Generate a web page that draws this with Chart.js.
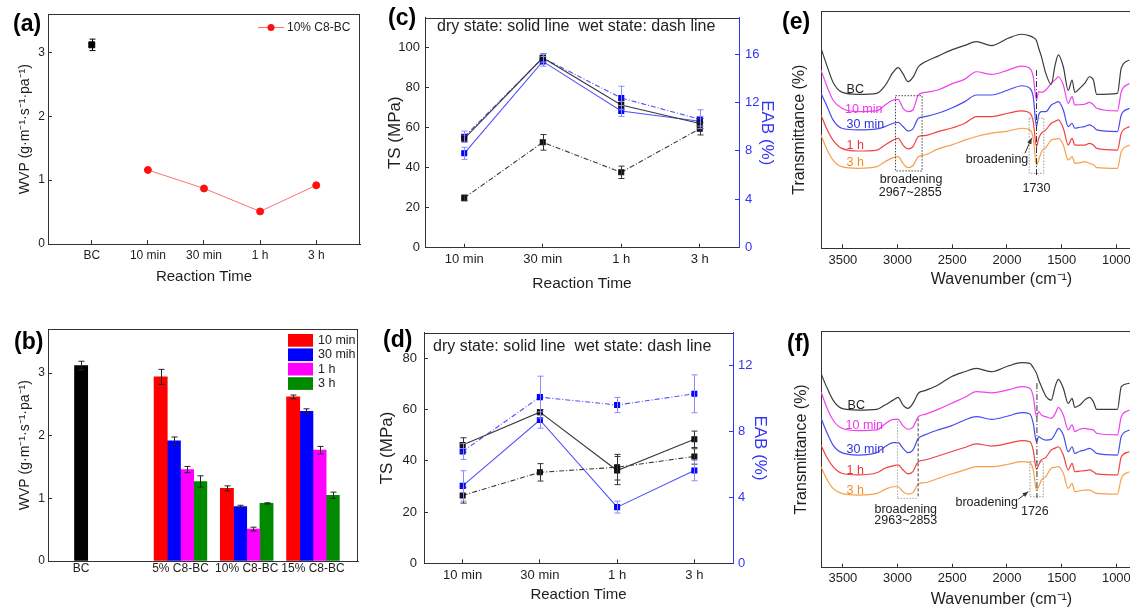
<!DOCTYPE html>
<html>
<head>
<meta charset="utf-8">
<title>C8-BC films</title>
<script src="https://cdn.jsdelivr.net/npm/chart.js@4.4.1/dist/chart.umd.min.js"></script>
<style>
  html, body { margin: 0; padding: 0; background: #fff; }
  body { width: 1130px; height: 608px; overflow: hidden; position: relative; }
  canvas { position: absolute; }
</style>
</head>
<body>
<canvas id="chartA" width="375" height="300" style="left:0;top:0"></canvas>
<canvas id="chartB" width="375" height="308" style="left:0;top:300px"></canvas>
<canvas id="chartC" width="405" height="300" style="left:375px;top:0"></canvas>
<canvas id="chartD" width="405" height="308" style="left:375px;top:300px"></canvas>
<canvas id="chartE" width="420" height="300" style="left:780px;top:0"></canvas>
<canvas id="chartF" width="420" height="308" style="left:780px;top:300px"></canvas>
<script>
// ---- data ----
// (a) WVP, BC vs 10% C8-BC at each reaction time
const aLabels = ['BC', '10 min', '30 min', '1 h', '3 h'];
const aPositions = [1, 2, 3, 4, 5];
const wvpBC = 3.12;
const wvpBCErr = 0.09;
const wvp10 = [1.16, 0.87, 0.51, 0.92];

// (b) WVP by C8 content and reaction time
const groupLabels = ['BC', '5% C8-BC', '10% C8-BC', '15% C8-BC'];
const groupPositions = [0, 1.5, 2.5, 3.5];
const barSeries = ['10 min', '30 mih', '1 h', '3 h'];
const barBC = 3.12, barBCErr = 0.07;
const bar10min = [2.94, 1.16, 2.62];
const bar10minErr = [0.12, 0.04, 0.03];
const bar30min = [1.92, 0.87, 2.39];
const bar30minErr = [0.06, 0.02, 0.04];
const bar1h = [1.46, 0.51, 1.77];
const bar1hErr = [0.05, 0.03, 0.06];
const bar3h = [1.27, 0.92, 1.05];
const bar3hErr = [0.09, 0.01, 0.05];

// (c) / (d) tensile strength and elongation
const timeLabels = ['10 min', '30 min', '1 h', '3 h'];
const tsDryC = [54.6, 95.0, 71.4, 62.1];
const tsDryCErr = [1.5, 2, 2, 2.5];
const tsWetC = [24.9, 52.7, 37.7, 59.5];
const tsWetCErr = [1.5, 3.9, 3.1, 3.1];
const eabDryC = [7.8, 15.4, 11.3, 10.45];
const eabDryCErr = [0.5, 0.4, 0.45, 0.4];
const eabWetC = [9.17, 15.68, 12.37, 10.62];
const eabWetCErr = [0.47, 0.35, 0.97, 0.78];

const tsDryD = [46.2, 59.0, 36.2, 48.4];
const tsDryDErr = [2.8, 1, 5.5, 3.2];
const tsWetD = [26.5, 35.5, 37.5, 41.7];
const tsWetDErr = [3, 3.4, 5, 3];
const eabDryD = [4.7, 8.7, 3.41, 5.63];
const eabDryDErr = [0.92, 0.5, 0.36, 0.62];
const eabWetD = [6.79, 10.09, 9.61, 10.29];
const eabWetDErr = [0.48, 1.27, 0.46, 1.15];

// (e) / (f) FTIR spectra
const specNames = ['BC', '10 min', '30 min', '1 h', '3 h'];
const wn = [3700,3650,3590,3510,3360,3190,3115,3040,2995,2950,
            2905,2860,2810,2750,2630,2510,2385,2280,2140,1990,
            1865,1790,1760,1730,1710,1685,1645,1595,1560,1530,
            1485,1440,1405,1380,1335,1290,1245,1210,1180,990,
            955,880];
const wnTicks = [3500, 3000, 2500, 2000, 1500, 1000, 500];

const eBC = [84.3,77.5,70.0,65.8,64.9,65.3,68.5,74.2,76.1,73.5, 70.2,72.0,76.5,78.5,81.0,83.5,85.5,87.1,85.4,88.5, 90.2,89.5,88.8,87.5,84.3,80.8,73.7,69.1,77.2,81.5, 76.5,66.5,70.9,65.7,67.4,69.5,72.3,70.9,64.9,65.3, 76.0,79.4];
const e10min = [75.1,68.8,62.5,59.0,57.6,57.9,60.4,62.5,62.8,59.0, 57.6,58.3,64.6,65.7,66.7,69.2,71.3,74.4,73.3,75.1, 76.8,75.8,72.3,62.5,66.0,65.7,66.7,69.5,71.0,72.3, 68.8,61.1,63.9,60.4,60.5,60.7,61.5,60.5,59.0,57.9, 66.0,69.5];
const e30min = [65.3,60.4,54.1,50.6,49.9,50.3,51.3,52.7,53.1,51.3, 49.4,50.3,54.8,55.5,56.9,59.0,61.8,64.6,64.6,66.7, 68.5,67.4,63.9,51.3,56.2,57.6,57.6,60.4,61.2,61.8, 58.3,51.3,52.7,50.6,51.0,51.3,52.0,51.2,49.9,49.2, 56.2,59.0];
const e1h = [56.2,50.6,45.6,42.1,41.0,41.4,43.5,45.6,46.3,43.5, 41.9,42.8,47.1,47.5,49.2,50.6,52.7,55.5,55.5,56.9, 57.9,56.9,53.4,42.8,46.3,48.5,49.9,52.7,53.5,54.1, 50.6,43.5,46.3,43.5,43.5,43.5,44.2,43.5,42.1,41.4, 48.5,51.3];
const e3h = [47.8,42.1,37.2,34.4,33.7,34.4,36.5,38.2,38.6,35.8, 34.0,34.8,38.6,39.3,41.9,43.5,45.6,47.1,48.5,49.4, 50.6,49.9,46.3,35.1,37.2,40.7,42.4,45.6,46.0,46.3, 43.5,37.2,38.6,35.8,36.0,36.5,35.8,35.2,34.0,33.7, 40.7,43.5];

const fBC = [82.1,76.5,70.8,67.3,66.6,66.9,68.7,70.8,72.0,68.7, 67.3,69.4,73.7,74.8,77.2,80.7,82.8,84.2,82.8,85.2, 86.6,86.3,84.5,82.1,79.3,76.5,72.5,70.8,76.5,79.6, 75.8,69.4,71.5,67.7,68.7,70.8,72.0,70.1,66.9,66.9, 76.5,77.9];
const f10min = [74.4,68.0,62.4,58.9,57.9,58.2,60.7,62.7,62.7,59.9, 58.5,59.3,63.8,64.8,66.9,69.4,72.0,74.4,73.9,75.1, 76.5,75.8,72.3,63.8,65.9,64.5,63.8,63.1,65.0,67.7, 64.5,58.2,60.3,57.5,58.5,58.9,58.5,58.2,56.8,56.1, 63.8,66.6];
const f30min = [63.1,57.5,51.8,48.6,47.6,48.6,51.1,52.8,52.8,50.4, 48.6,49.7,54.6,56.1,58.2,59.9,62.4,63.8,62.7,64.1, 65.5,64.9,61.0,53.2,55.4,54.6,53.9,54.2,56.5,58.9, 56.1,49.0,51.1,48.3,49.2,49.7,50.4,49.5,48.3,47.6, 55.4,58.2];
const f1h = [51.8,46.9,42.7,39.9,39.2,40.1,42.0,43.0,43.4,41.3, 39.6,40.6,44.8,45.5,47.2,49.0,50.8,52.3,51.4,52.5, 53.7,53.2,49.7,41.5,43.4,45.5,46.6,49.7,50.5,51.1, 47.6,41.3,44.1,40.6,40.8,41.0,41.3,40.5,39.6,39.2, 46.9,49.0];
const f3h = [42.7,37.7,33.5,31.4,30.7,31.4,33.1,34.2,34.2,32.1, 31.1,31.7,35.4,35.9,37.7,39.6,41.3,42.7,42.7,43.7, 44.8,44.4,41.3,32.8,34.2,37.0,38.5,42.0,42.4,42.7, 39.9,33.5,35.6,32.1,32.5,32.8,32.8,32.0,31.4,31.1, 37.7,40.6];

// ---- look ----
const FONT = "'Liberation Sans', Arial, Helvetica, sans-serif";
Chart.defaults.font.family = FONT;
Chart.defaults.color = '#1e1e1e';
Chart.defaults.animation = false;
Chart.defaults.events = [];
Chart.defaults.plugins.legend.display = false;
Chart.defaults.plugins.tooltip.enabled = false;

const BLUE_AXIS = '#3434f4';
const specColors = ['#3c3c3c', '#f040f0', '#4a4af0', '#f04242', '#f5a04a'];
const specText = ['#222', '#e838e8', '#3030e0', '#e83636', '#f08c28'];
const wvpTitle = 'WVP (g\u00B7m\u207B\u00B9\u00B7s\u207B\u00B9\u00B7pa\u207B\u00B9)';

function inTicks(color) {
  return { drawOnChartArea: false, drawTicks: true, tickLength: -4, color: color || '#333' };
}
function edge(color) {
  return { display: true, color: color || '#333', width: 1 };
}

function txt(ctx, s, x, y, size, color, align, weight) {
  ctx.save();
  ctx.font = (weight || 'normal') + ' ' + size + 'px ' + FONT;
  ctx.fillStyle = color || '#222';
  ctx.textAlign = align || 'left';
  ctx.textBaseline = 'middle';
  ctx.fillText(s, x, y);
  ctx.restore();
}
function panelLabel(ctx, s, x, baseline) {
  ctx.save();
  ctx.font = 'bold 23px ' + FONT;
  ctx.fillStyle = '#000';
  ctx.textBaseline = 'alphabetic';
  ctx.fillText(s, x, baseline);
  ctx.restore();
}
function arrow(ctx, x1, y1, x2, y2) {
  const a = Math.atan2(y2 - y1, x2 - x1);
  ctx.save();
  ctx.strokeStyle = '#333'; ctx.fillStyle = '#333'; ctx.lineWidth = 1;
  ctx.beginPath(); ctx.moveTo(x1, y1); ctx.lineTo(x2, y2); ctx.stroke();
  ctx.beginPath();
  ctx.moveTo(x2, y2);
  ctx.lineTo(x2 - 6 * Math.cos(a - 0.4), y2 - 6 * Math.sin(a - 0.4));
  ctx.lineTo(x2 - 6 * Math.cos(a + 0.4), y2 - 6 * Math.sin(a + 0.4));
  ctx.closePath(); ctx.fill();
  ctx.restore();
}

// box top/right edge like the plotting program
const frame = {
  id: 'frame',
  beforeDatasetsDraw(chart, args, opts) {
    const { ctx, chartArea: a } = chart;
    ctx.save();
    ctx.strokeStyle = '#333';
    ctx.lineWidth = 1;
    const t = Math.round(a.top) + 0.5, r = Math.round(a.right) - 0.5;
    ctx.beginPath();
    ctx.moveTo(a.left, t); ctx.lineTo(a.right, t);
    if (!opts.skipRight) { ctx.moveTo(r, a.top); ctx.lineTo(r, a.bottom); }
    ctx.stroke();
    ctx.restore();
  }
};

// vertical error bars from dataset.errors
const errorBars = {
  id: 'errorBars',
  afterDatasetsDraw(chart) {
    const ctx = chart.ctx;
    chart.data.datasets.forEach((ds, i) => {
      if (!ds.errors) return;
      const meta = chart.getDatasetMeta(i);
      const ys = chart.scales[meta.yAxisID];
      ctx.save();
      ctx.strokeStyle = ds.errorColor || ds.borderColor;
      ctx.lineWidth = 1;
      meta.data.forEach((el, j) => {
        const e = ds.errors[j];
        if (!e) return;
        const v = meta.controller.getParsed(j).y;
        const x = Math.round(el.x) + 0.5;
        const top = ys.getPixelForValue(v + e), bot = ys.getPixelForValue(v - e);
        ctx.beginPath();
        ctx.moveTo(x, top); ctx.lineTo(x, bot);
        ctx.moveTo(x - 3, top); ctx.lineTo(x + 3, top);
        ctx.moveTo(x - 3, bot); ctx.lineTo(x + 3, bot);
        ctx.stroke();
      });
      ctx.restore();
    });
  }
};

// ---- (a) ----
new Chart(document.getElementById('chartA'), {
  type: 'line',
  data: {
    datasets: [
      { data: [{ x: aPositions[0], y: wvpBC }], errors: [wvpBCErr], showLine: false,
        pointStyle: 'rect', pointRadius: 4.2, pointBackgroundColor: '#000', pointBorderColor: '#000', borderColor: '#000' },
      { data: wvp10.map((v, i) => ({ x: aPositions[i + 1], y: v })), borderColor: '#ff7070', borderWidth: 1,
        pointRadius: 3.5, pointBackgroundColor: '#ff1010', pointBorderColor: '#ff1010' }
    ]
  },
  options: {
    responsive: false,
    layout: { padding: { left: 0, right: 15, top: 13, bottom: 0 } },
    scales: {
      x: {
        type: 'linear', min: 0.22, max: 5.78, offset: false,
        afterBuildTicks: s => { s.ticks = aPositions.map(v => ({ value: v })); },
        ticks: { callback: (v, i) => aLabels[i], font: { size: 12 }, padding: 8.5, maxRotation: 0, autoSkip: false },
        grid: inTicks(), border: edge(),
        title: { display: true, text: 'Reaction Time', font: { size: 15 }, padding: { top: 0, bottom: 14 } },
        afterFit: s => { s.height = 56; }
      },
      y: {
        min: 0, max: 3.6,
        ticks: { stepSize: 1, includeBounds: false, font: { size: 12 }, padding: 7 },
        grid: inTicks(), border: edge(),
        title: { display: true, text: wvpTitle, font: { size: 14 }, padding: { top: 16.6, bottom: 0 } },
        afterFit: s => { s.width = 48; }
      }
    }
  },
  plugins: [frame, errorBars, {
    id: 'decoA',
    afterDraw(chart) {
      const ctx = chart.ctx;
      panelLabel(ctx, '(a)', 13, 31);
      ctx.save();
      ctx.strokeStyle = '#ff7070'; ctx.lineWidth = 1;
      ctx.beginPath(); ctx.moveTo(258, 27.5); ctx.lineTo(284, 27.5); ctx.stroke();
      ctx.fillStyle = '#ff1010';
      ctx.beginPath(); ctx.arc(271, 27.5, 3.5, 0, Math.PI * 2); ctx.fill();
      ctx.restore();
      txt(ctx, '10% C8-BC', 287, 27.5, 12, '#222');
    }
  }]
});

// ---- (b) ----
const barColors = ['#ff0000', '#0000ff', '#ff00ff', '#008a00'];
const barValues = [bar10min, bar30min, bar1h, bar3h];
const barErrors = [bar10minErr, bar30minErr, bar1hErr, bar3hErr];
new Chart(document.getElementById('chartB'), {
  type: 'bar',
  data: {
    datasets: [
      { label: 'BC', data: [{ x: groupPositions[0], y: barBC }], errors: [barBCErr], grouped: false,
        backgroundColor: '#000', borderColor: '#000', errorColor: '#222', barThickness: 13.2 }
    ].concat(barSeries.map((name, k) => ({
      label: name,
      data: barValues[k].map((v, i) => ({ x: groupPositions[i + 1], y: v })),
      errors: barErrors[k],
      backgroundColor: barColors[k], borderColor: barColors[k], errorColor: '#222',
      barThickness: 13.2
    })))
  },
  options: {
    responsive: false,
    layout: { padding: { left: 0, right: 17, top: 29.3, bottom: 0 } },
    scales: {
      x: {
        type: 'linear', min: -0.5, max: 4.18, offset: false,
        afterBuildTicks: s => { s.ticks = groupPositions.map(v => ({ value: v })); },
        ticks: { callback: (v, i) => groupLabels[i], font: { size: 12 }, padding: 0.5, maxRotation: 0, autoSkip: false },
        grid: { display: false, drawTicks: false, offset: false }, border: edge(),
        afterFit: s => { s.height = 47; }
      },
      y: {
        min: 0, max: 3.7,
        ticks: { stepSize: 1, includeBounds: false, font: { size: 12 }, padding: 7 },
        grid: inTicks(), border: edge(),
        title: { display: true, text: wvpTitle, font: { size: 14 }, padding: { top: 16.6, bottom: 0 } },
        afterFit: s => { s.width = 48; }
      }
    }
  },
  plugins: [frame, errorBars, {
    id: 'decoB',
    afterDraw(chart) {
      const ctx = chart.ctx;
      panelLabel(ctx, '(b)', 14, 48.5);
      barSeries.forEach((name, k) => {
        const top = 34 + k * 14.4;
        ctx.fillStyle = barColors[k];
        ctx.fillRect(288, top, 25, 12.7);
        txt(ctx, name, 318, top + 6.6, 12.5, '#222');
      });
    }
  }]
});

// ---- (c), (d) ----
function mechSets(tsDry, tsDryErr, tsWet, tsWetErr, eabDry, eabDryErr, eabWet, eabWetErr) {
  const common = { pointStyle: 'rect', pointRadius: 3.5, borderWidth: 1.1 };
  return [
    Object.assign({ data: tsDry, errors: tsDryErr, yAxisID: 'y', borderColor: '#3a3a3a', errorColor: '#333',
      pointBackgroundColor: '#111', pointBorderColor: '#111' }, common),
    Object.assign({ data: tsWet, errors: tsWetErr, yAxisID: 'y', borderColor: '#3a3a3a', errorColor: '#333',
      borderDash: [5, 2, 1, 2], pointBackgroundColor: '#111', pointBorderColor: '#111' }, common),
    Object.assign({ data: eabDry, errors: eabDryErr, yAxisID: 'y1', borderColor: '#5050ff', errorColor: '#8a8aff',
      pointBackgroundColor: '#0000ff', pointBorderColor: '#0000ff' }, common),
    Object.assign({ data: eabWet, errors: eabWetErr, yAxisID: 'y1', borderColor: '#5050ff', errorColor: '#8a8aff',
      borderDash: [5, 2, 1, 2], pointBackgroundColor: '#0000ff', pointBorderColor: '#0000ff' }, common)
  ];
}

function mechOptions(g) {
  return {
    responsive: false,
    layout: { padding: { left: 0, right: 0, top: g.top, bottom: 0 } },
    scales: {
      x: {
        type: 'category', offset: true,
        ticks: { font: { size: 13 }, padding: g.xPad, maxRotation: 0, autoSkip: false },
        grid: Object.assign(inTicks(), { offset: false }), border: edge(),
        title: { display: true, text: 'Reaction Time', font: { size: g.xTitleSize }, padding: { top: 0, bottom: g.xTitlePad } },
        afterFit: s => { s.height = g.xHeight; }
      },
      y: {
        position: 'left', min: 0, max: g.tsMax,
        ticks: { stepSize: 20, includeBounds: false, font: { size: 13 }, padding: g.yPad },
        grid: inTicks(), border: edge(),
        title: { display: true, text: 'TS (MPa)', font: { size: 17 }, padding: { top: g.yTitlePad, bottom: 0 } },
        afterFit: s => { s.width = g.yWidth; }
      },
      y1: {
        position: 'right', min: 0, max: g.eabMax,
        ticks: { stepSize: 4, includeBounds: false, font: { size: 13 }, color: BLUE_AXIS, padding: g.y1Pad },
        grid: inTicks(BLUE_AXIS), border: edge(BLUE_AXIS),
        title: { display: true, text: 'EAB (%)', color: BLUE_AXIS, font: { size: 17 }, padding: { top: g.y1TitlePad, bottom: 0 } },
        afterFit: s => { s.width = g.y1Width; }
      }
    },
    plugins: { frame: { skipRight: true } }
  };
}

new Chart(document.getElementById('chartC'), {
  type: 'line',
  data: { labels: timeLabels, datasets: mechSets(tsDryC, tsDryCErr, tsWetC, tsWetCErr, eabDryC, eabDryCErr, eabWetC, eabWetCErr) },
  options: mechOptions({ top: 12.7, xHeight: 52.3, xPad: 7.8, xTitleSize: 15.5, xTitlePad: 7.4,
    tsMax: 115, eabMax: 19, yWidth: 50, yPad: 9, yTitlePad: 9.8, y1Width: 41, y1Pad: 10, y1TitlePad: 2.8 }),
  plugins: [frame, errorBars, {
    id: 'decoC',
    afterDraw(chart) {
      panelLabel(chart.ctx, '(c)', 13, 25);
      txt(chart.ctx, 'dry state: solid line  wet state: dash line', 62, 27, 16, '#222');
    }
  }]
});

new Chart(document.getElementById('chartD'), {
  type: 'line',
  data: { labels: timeLabels, datasets: mechSets(tsDryD, tsDryDErr, tsWetD, tsWetDErr, eabDryD, eabDryDErr, eabWetD, eabWetDErr) },
  options: mechOptions({ top: 32.7, xHeight: 44.7, xPad: 7.9, xTitleSize: 15, xTitlePad: 4,
    tsMax: 90, eabMax: 14, yWidth: 49, yPad: 11, yTitlePad: 1.8, y1Width: 47, y1Pad: 9, y1TitlePad: 9.8 }),
  plugins: [frame, errorBars, {
    id: 'decoD',
    afterDraw(chart) {
      panelLabel(chart.ctx, '(d)', 8, 47);
      txt(chart.ctx, 'dry state: solid line  wet state: dash line', 58, 47, 16, '#222');
    }
  }]
});

// ---- (e), (f) ----
function specDatasets(series) {
  return series.map((ys, k) => ({
    label: specNames[k],
    data: wn.map((w, i) => ({ x: w, y: ys[i] })),
    borderColor: specColors[k], borderWidth: 1.2, pointRadius: 0,
    cubicInterpolationMode: 'monotone'
  }));
}

function specOptions(g) {
  return {
    responsive: false,
    layout: { padding: { left: 0, right: 18, top: g.top, bottom: 0 } },
    scales: {
      x: {
        type: 'linear', reverse: true, min: 400, max: 3700, offset: false,
        afterBuildTicks: s => { s.ticks = wnTicks.map(v => ({ value: v })); },
        ticks: { callback: v => String(v), font: { size: 13 }, padding: g.xPad, maxRotation: 0, autoSkip: false },
        grid: inTicks(), border: edge(),
        title: { display: true, text: 'Wavenumber (cm\u207B\u00B9)', font: { size: 16 }, padding: { top: 0, bottom: g.xTitlePad } },
        afterFit: s => { s.height = g.xHeight; }
      },
      y: {
        min: 0, max: 100,
        ticks: { display: false },
        grid: { display: false }, border: edge(),
        title: { display: true, text: 'Transmittance (%)', font: { size: 16 }, padding: { top: g.yTitlePad, bottom: 0 } },
        afterFit: s => { s.width = 41; }
      }
    }
  };
}

function dashedLine(ctx, x1, y1, x2, y2, dash, color) {
  ctx.save();
  ctx.strokeStyle = color; ctx.lineWidth = 1; ctx.setLineDash(dash);
  ctx.beginPath(); ctx.moveTo(x1, y1); ctx.lineTo(x2, y2); ctx.stroke();
  ctx.restore();
}

new Chart(document.getElementById('chartE'), {
  type: 'line',
  data: { datasets: specDatasets([eBC, e10min, e30min, e1h, e3h]) },
  options: specOptions({ top: 11, xHeight: 51.7, xPad: 7.9, xTitlePad: 10.4, yTitlePad: 10.4 }),
  plugins: [frame, {
    id: 'decoE',
    afterDraw(chart) {
      const ctx = chart.ctx;
      const X = v => chart.scales.x.getPixelForValue(v), Y = v => chart.scales.y.getPixelForValue(v);
      panelLabel(ctx, '(e)', 2, 29);
      const nameX = [3466, 3481, 3466, 3466, 3466], nameY = [66.7, 58.3, 52.0, 43.5, 36.2];
      specNames.forEach((s, k) => txt(ctx, s, X(nameX[k]), Y(nameY[k]), 12.5, specText[k]));
      ctx.save();
      ctx.strokeStyle = '#444'; ctx.lineWidth = 1; ctx.setLineDash([1.5, 1.5]);
      ctx.strokeRect(X(3019), Y(64.3), X(2776) - X(3019), Y(32.6) - Y(64.3));
      ctx.strokeStyle = '#999';
      ctx.strokeRect(X(1797), Y(54.8), X(1663) - X(1797), Y(31.6) - Y(54.8));
      ctx.restore();
      dashedLine(ctx, X(1730), Y(75.1), X(1730), Y(30.9), [6, 2, 1, 2], '#333');
      txt(ctx, 'broadening', X(2876), Y(28.8), 12.5, '#222', 'center');
      txt(ctx, '2967~2855', X(2885), Y(23.3), 12.5, '#222', 'center');
      txt(ctx, 'broadening', X(2091), Y(37.6), 12.5, '#222', 'center');
      txt(ctx, '1730', X(1730), Y(25.3), 12.5, '#222', 'center');
      arrow(ctx, X(1836), Y(40.0), X(1775), Y(46.4));
    }
  }]
});

new Chart(document.getElementById('chartF'), {
  type: 'line',
  data: { datasets: specDatasets([fBC, f10min, f30min, f1h, f3h]) },
  options: specOptions({ top: 31, xHeight: 40.3, xPad: 6.8, xTitlePad: -1.5, yTitlePad: 12.4 }),
  plugins: [frame, {
    id: 'decoF',
    afterDraw(chart) {
      const ctx = chart.ctx;
      const X = v => chart.scales.x.getPixelForValue(v), Y = v => chart.scales.y.getPixelForValue(v);
      panelLabel(ctx, '(f)', 7, 51);
      const nameX = [3457, 3476, 3466, 3466, 3466], nameY = [68.7, 59.9, 50.0, 41.0, 32.8];
      specNames.forEach((s, k) => txt(ctx, s, X(nameX[k]), Y(nameY[k]), 12.5, specText[k]));
      dashedLine(ctx, X(3001), Y(63.1), X(3001), Y(29.3), [1.5, 1.5], '#aaa');
      dashedLine(ctx, X(3001), Y(29.3), X(2812), Y(29.3), [1.5, 1.5], '#aaa');
      dashedLine(ctx, X(2812), Y(63.1), X(2812), Y(29.3), [3, 2], '#444');
      ctx.save();
      ctx.strokeStyle = '#999'; ctx.lineWidth = 1; ctx.setLineDash([1.5, 1.5]);
      ctx.strokeRect(X(1790), Y(44.8), X(1668) - X(1790), Y(30.0) - Y(44.8));
      ctx.restore();
      dashedLine(ctx, X(1726), Y(78), X(1726), Y(29.4), [6, 2, 1, 2], '#333');
      txt(ctx, 'broadening', X(2925), Y(24.7), 12.5, '#222', 'center');
      txt(ctx, '2963~2853', X(2925), Y(19.9), 12.5, '#222', 'center');
      txt(ctx, 'broadening', X(2185), Y(27.5), 12.5, '#222', 'center');
      txt(ctx, '1726', X(1745), Y(23.7), 12.5, '#222', 'center');
      arrow(ctx, X(1897), Y(28.9), X(1806), Y(32.1));
    }
  }]
});
</script>
</body>
</html>
